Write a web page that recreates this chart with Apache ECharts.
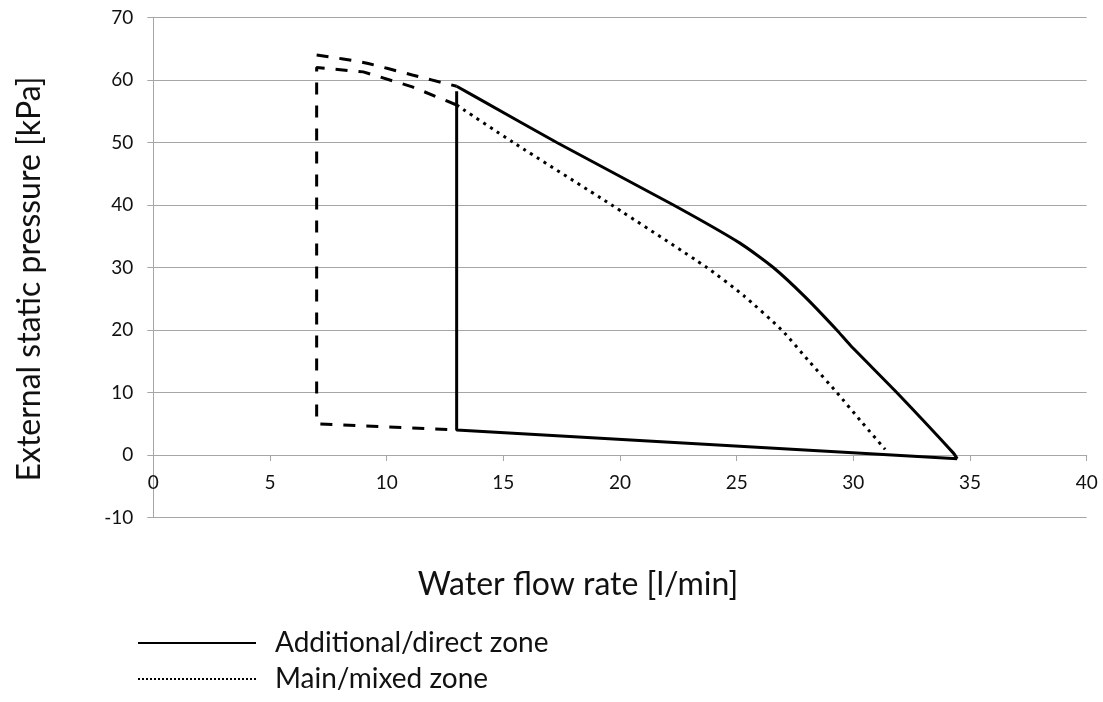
<!DOCTYPE html>
<html lang="en">
<head>
    <meta charset="utf-8">
    <script src="https://cdn.jsdelivr.net/npm/echarts@6/dist/echarts.min.js"></script>
    <style>
        html, body {
            margin: 0px;
            padding: 0px;
            background-color: #fff;
        }

        #chart {
            width: 1103px;
            height: 702px;
        }
    </style>
    <title>Water flow rate vs external static pressure</title>
</head>
<body>
    <div id="chart"></div>
    <script type="text/javascript">
        // axis ticks
        var xTicks = [0, 5, 10, 15, 20, 25, 30, 35, 40];
        var yTicks = [-10, 0, 10, 20, 30, 40, 50, 60, 70];

        // additional/direct zone, upper curve [flow, pressure]
        var directUpper = [[13, 59], [14, 56.9], [17.29, 50], [22.29, 40], [25.14, 33.9], [26.57, 30],
            [27.93, 25.3], [29.29, 20], [29.86, 17.6], [31.86, 10], [34.29, 0.3], [34.45, -0.6]];
        // additional/direct zone, left edge and bottom
        var directLower = [[13, 58.2], [13, 4], [34.45, -0.6]];

        // main/mixed zone curve
        var mixedCurve = [[13, 56], [15.43, 50], [19.64, 40], [23.72, 30], [25.3, 25.5], [26.93, 20],
            [28.1, 15], [29.29, 10], [30.35, 5.3], [31.36, 0.9]];

        // dashed outlines (not in legend)
        var dashedUpper = [[7, 64], [9, 62.8], [11.1, 60.8], [13, 59]];
        var dashedLower = [[13, 56], [11.1, 58.9], [9, 61.3], [7, 62], [7, 5], [13, 4]];

        var legendNames = ['Additional/direct zone', 'Main/mixed zone'];

        var myChart = echarts.init(document.getElementById('chart'));
        var font = 'Lato, "Open Sans", sans-serif';
        var gridColor = '#a6a6a6';

        function lineSeries(name, data, type, smooth) {
            return {
                name: name,
                type: 'line',
                data: data,
                symbol: 'none',
                smooth: smooth,
                silent: true,
                animation: false,
                itemStyle: { color: '#000' },
                lineStyle: { color: '#000', width: 3, type: type }
            };
        }

        var option = {
            backgroundColor: '#fff',
            textStyle: { fontFamily: font },
            grid: { left: 153.3, right: 16.3, top: 17.5, bottom: 184.5 },
            legend: {
                orient: 'vertical',
                left: 132,
                top: 622,
                itemWidth: 118,
                itemHeight: 10,
                itemGap: 4,
                selectedMode: false,
                textStyle: {
                    fontFamily: font, fontSize: 28, color: '#111',
                    padding: [0, 0, 0, 14], lineHeight: 32
                },
                data: [
                    { name: legendNames[0], itemStyle: { opacity: 0 }, lineStyle: { width: 2, type: 'solid' } },
                    { name: legendNames[1], itemStyle: { opacity: 0 }, lineStyle: { width: 2, type: [2, 2] } }
                ]
            },
            xAxis: {
                type: 'value',
                min: xTicks[0],
                max: xTicks[xTicks.length - 1],
                interval: 5,
                offset: -62.5,
                name: 'Water flow rate [l/min]',
                nameLocation: 'middle',
                nameGap: 114,
                nameTextStyle: { fontFamily: font, fontSize: 32, color: '#111', padding: [0, 84, 0, 0] },
                axisLine: { onZero: false, lineStyle: { color: gridColor, width: 1 } },
                axisTick: { show: true, length: 6, lineStyle: { color: gridColor } },
                axisLabel: { margin: 18, fontSize: 19, color: '#111', fontFamily: font },
                splitLine: { show: false }
            },
            yAxis: {
                type: 'value',
                min: yTicks[0],
                max: yTicks[yTicks.length - 1],
                interval: 10,
                name: 'External static pressure [kPa]',
                nameLocation: 'middle',
                nameGap: 108,
                nameTextStyle: { fontFamily: font, fontSize: 32, color: '#111', padding: [0, 23, 0, 0] },
                axisLine: { show: true, lineStyle: { color: gridColor, width: 1 } },
                axisTick: { show: true, length: 6, lineStyle: { color: gridColor } },
                axisLabel: { margin: 20, fontSize: 19, color: '#111', fontFamily: font },
                splitLine: { show: true, lineStyle: { color: gridColor, width: 1 } }
            },
            series: [
                lineSeries('dashed upper', dashedUpper, [12, 11], 0.3),
                lineSeries('dashed lower', dashedLower, [12, 11], false),
                lineSeries(legendNames[1], mixedCurve, [3, 5], 0.2),
                lineSeries(legendNames[0], directLower, 'solid', false),
                lineSeries(legendNames[0], directUpper, 'solid', 0.2)
            ]
        };

        myChart.setOption(option, true);
    </script>
</body>
</html>
